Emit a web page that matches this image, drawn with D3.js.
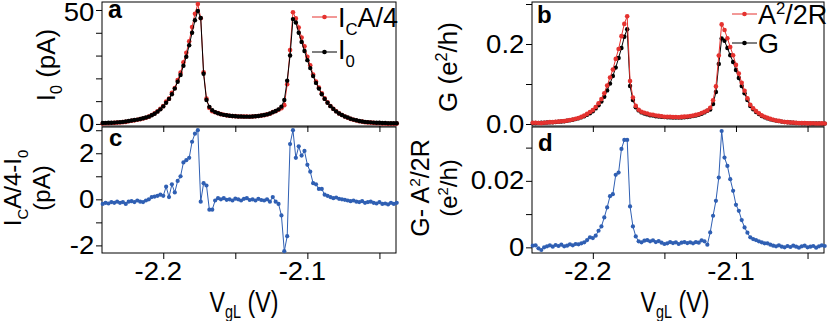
<html>
  <head>
    <title>Gate sweep</title>
    <script src="https://d3js.org/d3.v7.min.js"></script>
    <style>
      body { margin: 0; background: #fff; }
      text { font-family: "Liberation Sans", Arial, sans-serif; fill: #000; }
    </style>
  </head>
  <body>
    <svg id="chart" width="830" height="321"></svg>
    <script>
      // gate voltage V_gL (V)
      const vgl = [
        -2.242,-2.240,-2.238,-2.236,-2.234,-2.232,-2.230,-2.228,-2.226,-2.224,
        -2.222,-2.220,-2.218,-2.216,-2.214,-2.212,-2.210,-2.208,-2.206,-2.204,
        -2.202,-2.200,-2.198,-2.196,-2.194,-2.192,-2.190,-2.188,-2.186,-2.184,
        -2.182,-2.180,-2.178,-2.176,-2.174,-2.172,-2.170,-2.168,-2.166,-2.164,
        -2.162,-2.160,-2.158,-2.156,-2.154,-2.152,-2.150,-2.148,-2.146,-2.144,
        -2.142,-2.140,-2.138,-2.136,-2.134,-2.132,-2.130,-2.128,-2.126,-2.124,
        -2.122,-2.120,-2.118,-2.116,-2.114,-2.112,-2.110,-2.108,-2.106,-2.104,
        -2.102,-2.100,-2.098,-2.096,-2.094,-2.092,-2.090,-2.088,-2.086,-2.084,
        -2.082,-2.080,-2.078,-2.076,-2.074,-2.072,-2.070,-2.068,-2.066,-2.064,
        -2.062,-2.060,-2.058,-2.056,-2.054,-2.052,-2.050,-2.048,-2.046,-2.044,
        -2.042,-2.040,-2.038];

      // panel a, I_C A/4 (pA), red
      const icA4 = [
        0.2,0.3,0.32,0.43,0.45,0.6,0.65,0.78,0.9,1.2,
        1.42,1.58,1.85,2.1,2.38,2.75,3.2,3.9,4.62,5.55,
        6.6,7.85,9.85,11.1,13.65,15.8,19.3,22.5,27.1,31.2,
        36.3,42.5,48.35,52.6,46.4,22.7,11.1,7.05,5.55,5.15,
        4.75,4.3,4.05,3.78,3.6,3.45,3.43,3.3,3.25,3.22,
        3.25,3.17,3.3,3.35,3.52,3.67,3.85,4.2,4.5,5.2,
        5.6,6.2,6.9,8.25,17.4,32.4,49,46.3,42.3,37.9,
        34.1,29.5,25.7,21.7,18.65,15.95,13.45,11.2,9.45,7.9,
        6.65,5.58,4.62,3.9,3.28,2.75,2.22,1.85,1.5,1.18,
        1.02,0.75,0.68,0.6,0.45,0.32,0.38,0.2,0.22,0.08,
        0.15,0.1,0.15];

      // panel a, I_0 (pA), black
      const i0 = [
        0.4,0.45,0.5,0.55,0.6,0.7,0.8,0.9,1.1,1.3,
        1.5,1.7,1.9,2.2,2.5,2.8,3.2,3.8,4.5,5.4,
        6.4,7.7,9.3,11.0,13.0,15.5,18.5,21.5,25.5,29.5,
        34.5,40.0,45.5,49.6,46.5,22,10.5,7.5,6.0,5.2,
        4.7,4.3,4.0,3.8,3.6,3.5,3.4,3.3,3.3,3.2,
        3.2,3.2,3.3,3.4,3.5,3.7,3.9,4.2,4.6,5.1,
        5.7,6.4,7.6,10.5,19,30,46,44.5,40,36,
        32,28,24.5,21,18,15.5,13,11,9.3,7.8,
        6.6,5.5,4.6,3.9,3.3,2.8,2.3,1.9,1.6,1.3,
        1.1,0.9,0.8,0.7,0.6,0.5,0.5,0.4,0.4,0.3,
        0.3,0.3,0.3];

      // panel b, A^2/2R (e^2/h), red
      const a2r = [
        0.003,0.0032,0.0025,0.0022,0.0033,0.0039,0.0046,0.0046,0.0056,0.0059,
        0.007,0.0073,0.0085,0.0101,0.0112,0.0132,0.0151,0.0178,0.021,0.0252,
        0.03,0.0348,0.0425,0.052,0.0623,0.077,0.096,0.1164,0.136,0.1628,
        0.1875,0.2196,0.2503,0.2693,0.1073,0.0663,0.0453,0.0358,0.0305,0.028,
        0.0262,0.0238,0.0231,0.0211,0.0204,0.0194,0.0182,0.018,0.0181,0.0173,
        0.0175,0.017,0.0177,0.0184,0.0188,0.02,0.021,0.0228,0.0244,0.0276,
        0.0308,0.0338,0.0405,0.0595,0.094,0.171,0.249,0.235,0.2145,0.1925,
        0.172,0.1478,0.126,0.1032,0.083,0.0644,0.048,0.0395,0.0322,0.0268,
        0.0215,0.0182,0.0152,0.0128,0.0105,0.0088,0.0078,0.0062,0.005,0.0046,
        0.0037,0.0035,0.0028,0.0022,0.0023,0.0023,0.0016,0.0016,0.0017,0.0011,
        0.0014,0.0016,0.0014];

      // panel b, G (e^2/h), black
      const gCond = [
        0.0025,0.0026,0.0028,0.003,0.0033,0.0036,0.004,0.0044,0.0049,0.0055,
        0.0062,0.007,0.008,0.0092,0.0106,0.0122,0.0142,0.0166,0.0195,0.023,
        0.027,0.032,0.039,0.047,0.056,0.068,0.084,0.101,0.12,0.141,
        0.165,0.19,0.218,0.237,0.095,0.06,0.042,0.034,0.029,0.026,
        0.024,0.022,0.021,0.0195,0.0185,0.018,0.0172,0.0168,0.0165,0.016,
        0.016,0.016,0.0163,0.0168,0.0175,0.0185,0.0198,0.0212,0.023,0.0255,
        0.029,0.033,0.036,0.05,0.08,0.15,0.214,0.208,0.19,0.172,
        0.155,0.135,0.115,0.095,0.077,0.06,0.045,0.037,0.03,0.025,
        0.02,0.017,0.014,0.012,0.01,0.0085,0.0072,0.006,0.005,0.0042,
        0.0036,0.003,0.0026,0.0023,0.002,0.0018,0.0016,0.0014,0.0013,0.0012,
        0.0011,0.001,0.001];

      // panel c, I_C A/4 - I_0 (pA)
      const dI = [
        -0.2,-0.15,-0.18,-0.12,-0.15,-0.1,-0.15,-0.12,-0.2,-0.1,
        -0.08,-0.12,-0.05,-0.1,-0.12,-0.05,0.0,0.1,0.12,0.15,
        0.2,0.15,0.55,0.1,0.65,0.3,0.8,1.0,1.6,1.7,
        1.8,2.5,2.85,3.0,-0.1,0.7,0.6,-0.45,-0.45,-0.05,
        0.05,0.0,0.05,-0.02,0.0,-0.05,0.03,0.0,-0.05,0.02,
        0.05,-0.03,0.0,-0.05,0.02,-0.03,-0.05,0.0,-0.1,0.1,
        -0.1,-0.2,-0.7,-2.25,-1.6,2.4,3.0,1.8,2.3,1.9,
        2.1,1.5,1.2,0.7,0.65,0.45,0.45,0.2,0.15,0.1,
        0.05,0.08,0.02,0.0,-0.02,-0.05,-0.08,-0.05,-0.1,-0.12,
        -0.08,-0.15,-0.12,-0.1,-0.15,-0.18,-0.12,-0.2,-0.18,-0.22,
        -0.15,-0.2,-0.15];

      // panel d, G - A^2/2R (e^2/h)
      const dG = [
        0.0005,0.0006,-0.0003,-0.0008,0.0,0.0003,0.0006,0.0002,0.0007,0.0004,
        0.0008,0.0003,0.0005,0.0009,0.0006,0.001,0.0009,0.0012,0.0015,0.0022,
        0.003,0.0028,0.0035,0.005,0.0063,0.009,0.012,0.0154,0.016,0.0218,
        0.0225,0.0296,0.0323,0.0323,0.0123,0.0063,0.0033,0.0018,0.0015,0.002,
        0.0022,0.0018,0.0021,0.0016,0.0019,0.0014,0.001,0.0012,0.0016,0.0013,
        0.0015,0.001,0.0014,0.0016,0.0013,0.0015,0.0012,0.0016,0.0014,0.0021,
        0.0018,0.0008,0.0045,0.0095,0.014,0.021,0.035,0.027,0.0245,0.0205,
        0.017,0.0128,0.011,0.0082,0.006,0.0044,0.003,0.0025,0.0022,0.0018,
        0.0015,0.0012,0.0012,0.0008,0.0005,0.0003,0.0006,0.0002,0.0,0.0004,
        0.0001,0.0005,0.0002,-0.0001,0.0003,0.0005,0.0,0.0002,0.0004,-0.0001,
        0.0003,0.0006,0.0004];

      const xTicks = [-2.2, -2.15, -2.1, -2.05];
      const xTickLabels = [-2.2, -2.1];
      const aTicks = [0, 10, 20, 30, 40, 50],   aLabels = [0, 50];
      const bTicks = [0, 0.1, 0.2, 0.3],        bLabels = [0, 0.2];
      const cTicks = [-2, -1, 0, 1, 2, 3],      cLabels = [-2, 0, 2];
      const dTicks = [0, 0.01, 0.02, 0.03],     dLabels = [0, 0.02];

      const RED = "#e5322f", BLACK = "#000", BLUE = "#2f5fb3";
      const xDomain = [-2.2425, -2.0385];
      const svg = d3.select("#chart");

      function richText(g, parts, size, subShift) {
        parts.forEach(function(p) {
          var t = g.append("tspan").text(p[0]);
          if (p[1] == "sub") t.attr("font-size", size * 0.62).attr("baseline-shift", -size * (subShift || 0.28));
          if (p[1] == "sup") t.attr("font-size", size * 0.62).attr("baseline-shift", size * 0.38);
        });
      }

      function label(x, y, rot, size, parts, anchor, weight, stretch, subShift) {
        var t = svg.append("text")
          .attr("transform", "translate(" + x + "," + y + ")" + (rot ? " rotate(" + rot + ")" : "") +
                (stretch ? " scale(" + stretch + ")" : ""))
          .attr("font-size", size)
          .attr("text-anchor", anchor || "middle")
          .attr("font-weight", weight || "normal");
        richText(t, parts, size, subShift);
        return t;
      }

      function panel(p) {
        var x = d3.scaleLinear().domain(xDomain).range([p.x0, p.x1]);
        var y = d3.scaleLinear().domain(p.yDomain).range([p.y1, p.y0]);

        var yAxis = svg.append("g")
          .attr("transform", "translate(" + p.x0 + ",0)")
          .call(d3.axisLeft(y).tickValues(p.yTicks).tickSize(6).tickPadding(1)
            .tickFormat(function(d) { return p.yLabels.indexOf(d) >= 0 ? p.yFmt(d) : ""; }));
        yAxis.select(".domain").remove();
        yAxis.selectAll("text")
          .attr("font-size", 25).attr("font-family", "Liberation Sans, Arial, sans-serif")
          .attr("transform", "scale(1.1,1)")
          .attr("dy", function(d) { return y(d) - 9 < 2 ? "0.42em" : "0.32em"; });

        var xAxis = svg.append("g")
          .attr("transform", "translate(0," + p.y1 + ")")
          .call(d3.axisBottom(x).tickValues(xTicks).tickSize(6).tickPadding(3)
            .tickFormat(function(d) { return p.xLabels && xTickLabels.indexOf(d) >= 0 ? String(d) : ""; }));
        xAxis.select(".domain").remove();
        xAxis.selectAll("text")
          .attr("font-size", 25).attr("font-family", "Liberation Sans, Arial, sans-serif")
          .attr("x", -5).attr("transform", "scale(1.1,1)");

        svg.append("rect")
          .attr("x", p.x0).attr("y", p.y0)
          .attr("width", p.x1 - p.x0).attr("height", p.y1 - p.y0)
          .attr("fill", "none").attr("stroke", "#000").attr("stroke-width", 1);

        var line = d3.line().x(function(d, i) { return x(vgl[i]); }).y(function(d) { return y(d); });
        p.series.forEach(function(s) {
          svg.append("path").datum(s.values)
            .attr("fill", "none").attr("stroke", s.color).attr("stroke-width", 1)
            .attr("d", line);
          svg.append("g").selectAll("circle").data(s.values).enter().append("circle")
            .attr("cx", function(d, i) { return x(vgl[i]); })
            .attr("cy", function(d) { return y(d); })
            .attr("r", s.r).attr("fill", s.color);
        });
        return { x: x, y: y };
      }

      var fmtPlain = function(d) { return String(d); };

      panel({ x0: 102, x1: 396, y0: 2, y1: 126, yDomain: [-0.9, 53.5],
        yTicks: aTicks, yLabels: aLabels, yFmt: fmtPlain, xLabels: false,
        series: [{ values: icA4, color: RED, r: 2.3 }, { values: i0, color: BLACK, r: 2.2 }] });
      panel({ x0: 532, x1: 824, y0: 2, y1: 126, yDomain: [-0.005, 0.305],
        yTicks: bTicks, yLabels: bLabels, yFmt: function(d) { return d.toFixed(1); }, xLabels: false,
        series: [{ values: gCond, color: BLACK, r: 2.2 }, { values: a2r, color: RED, r: 2.3 }] });
      panel({ x0: 102, x1: 396, y0: 127, y1: 253, yDomain: [-2.33, 3.14],
        yTicks: cTicks, yLabels: cLabels, yFmt: fmtPlain, xLabels: true,
        series: [{ values: dI, color: BLUE, r: 2.1 }] });
      panel({ x0: 532, x1: 824, y0: 127, y1: 253, yDomain: [-0.0017, 0.0362],
        yTicks: dTicks, yLabels: dLabels, yFmt: fmtPlain, xLabels: true,
        series: [{ values: dG, color: BLUE, r: 2.1 }] });

      // panel letters
      label(108, 18, 0, 25, [["a"]], "start", "bold");
      label(537, 23, 0, 24, [["b"]], "start", "bold");
      label(109, 146, 0, 24, [["c"]], "start", "bold");
      label(538, 151, 0, 24, [["d"]], "start", "bold");

      // legends
      var legends = [
        { x: 312, y: 17, color: RED, parts: [["I"], ["C", "sub"], ["A/4"]], ty: 27 },
        { x: 312, y: 52, color: BLACK, parts: [["I"], ["0", "sub"]], ty: 59 },
        { x: 732, y: 14, color: RED, parts: [["A"], ["2", "sup"], ["/2R"]], ty: 24 },
        { x: 732, y: 43, color: BLACK, parts: [["G"]], ty: 53 }
      ];
      legends.forEach(function(l) {
        svg.append("line").attr("x1", l.x).attr("x2", l.x + 25).attr("y1", l.y).attr("y2", l.y)
          .attr("stroke", l.color).attr("stroke-width", 1);
        svg.append("circle").attr("cx", l.x + 12.5).attr("cy", l.y).attr("r", 2.3).attr("fill", l.color);
        label(l.x + 26, l.ty, 0, 27, l.parts, "start");
      });

      // axis titles
      label(55, 65, -90, 26, [["I"], ["0", "sub"], [" (pA)"]]);
      label(21, 188, -90, 24, [["I"], ["C", "sub"], ["A/4-I"], ["0", "sub"]]);
      label(50, 188, -90, 24, [["(pA)"]]);
      label(457, 67, -90, 26, [["G (e"], ["2", "sup"], ["/h)"]]);
      label(429, 188, -90, 25, [["G- A"], ["2", "sup"], ["/2R"]]);
      label(457, 188, -90, 24, [["(e"], ["2", "sup"], ["/h)"]]);
      label(244, 312, 0, 27, [["V"], ["gL", "sub"], [" (V)"]], "middle", "normal", "0.86,1.12", 0.18);
      label(675, 312, 0, 27, [["V"], ["gL", "sub"], [" (V)"]], "middle", "normal", "0.86,1.12", 0.18);
    </script>
  </body>
</html>
